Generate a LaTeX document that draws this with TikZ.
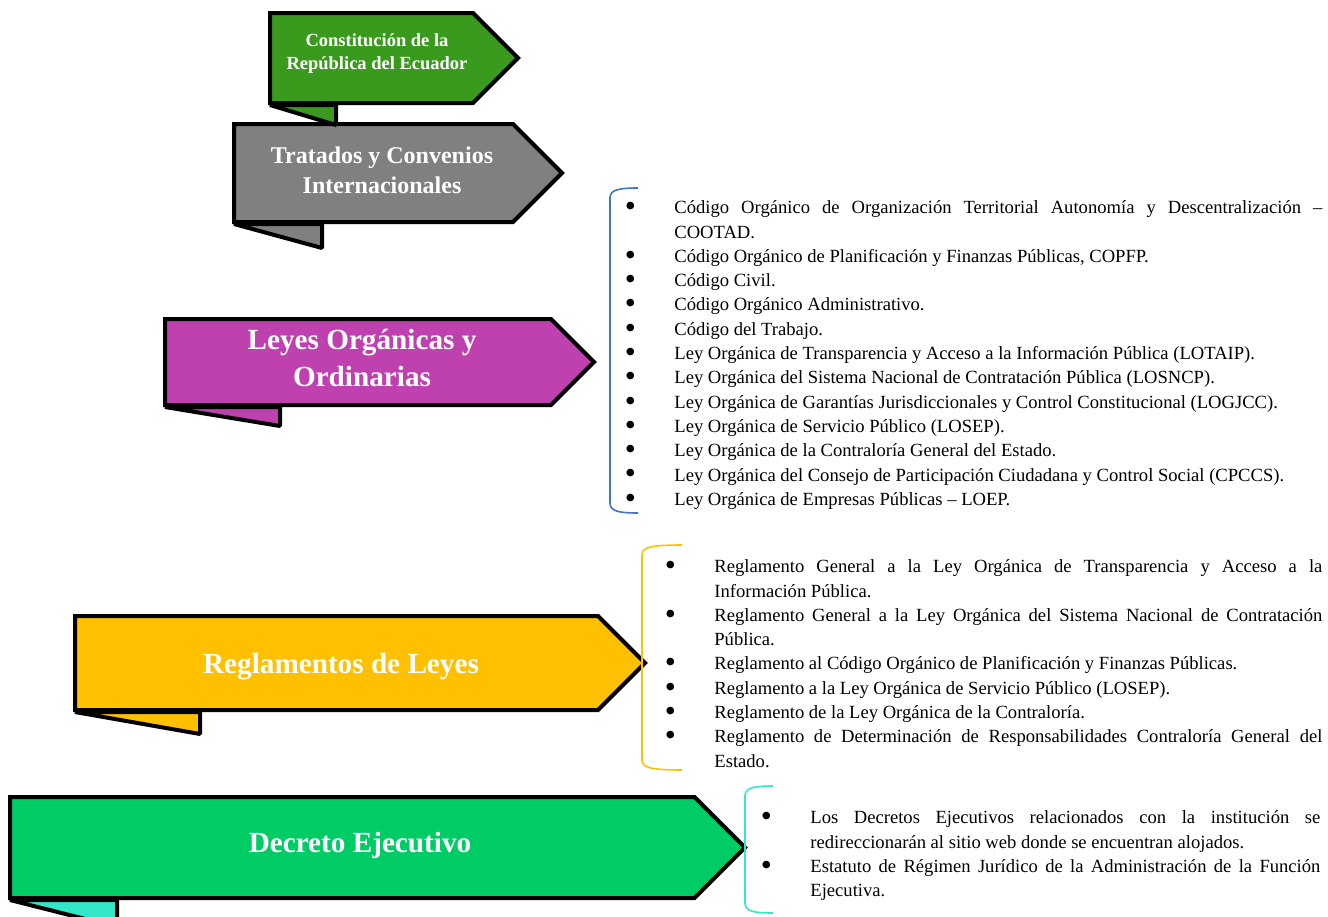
\documentclass[tikz,border=0pt]{standalone}
\usepackage{fontspec}
\usepackage{graphicx}
\setmainfont{Liberation Serif}[WordSpace={1,1,0}]
\usetikzlibrary{shapes.symbols}

\definecolor{verdeCons}{RGB}{58,154,30}
\definecolor{grisTrat}{RGB}{128,128,128}
\definecolor{moradoLey}{RGB}{191,64,175}
\definecolor{amarilloReg}{RGB}{255,192,0}
\definecolor{verdeDec}{RGB}{0,204,102}
\definecolor{turquesa}{RGB}{51,232,200}
\definecolor{azulLlave}{RGB}{68,114,196}

\hyphenpenalty=10000
\exhyphenpenalty=10000

\newcommand{\vineta}{\makebox[0pt][c]{\smash{\raisebox{-0.35ex}{\scalebox{1.7}{\textbullet}}}}}
\newenvironment{vinetas}{%
  \begin{list}{\vineta}{%
    \setlength{\leftmargin}{22pt}\setlength{\labelwidth}{0pt}%
    \setlength{\labelsep}{22pt}\setlength{\itemsep}{0pt}%
    \setlength{\parsep}{0pt}\setlength{\topsep}{0pt}\setlength{\partopsep}{0pt}}}%
  {\end{list}}

\begin{document}
\begin{tikzpicture}[x=0.5pt, y=-0.5pt, line join=miter]
	\tikzstyle{ribbon}=[signal, signal to=east, signal pointer angle=90, draw=black, line width=2pt, inner sep=0pt, anchor=west]
	\tikzstyle{tab}=[draw=black, line width=2pt, line join=bevel]
	\tikzstyle{rotulo}=[text=white, font=\bfseries, align=center, inner sep=0pt]
	\tikzstyle{lista}=[anchor=north west, inner sep=0pt, align=justify, font=\fontsize{9.3pt}{12.15pt}\selectfont]
	\tikzstyle{llave}=[line width=0.8pt]
	\useasboundingbox (0,0) rectangle (1328,916);

	% cintas
	\node[ribbon, fill=verdeCons, minimum width=124pt, minimum height=45pt] at (268,58) (cons) {};
	\node[ribbon, fill=grisTrat, minimum width=164pt, minimum height=49pt] at (232,173) (trat) {};
	\node[ribbon, fill=moradoLey, minimum width=214.5pt, minimum height=43pt] at (163,362) (leyes) {};
	\node[ribbon, fill=amarilloReg, minimum width=285pt, minimum height=47pt] at (73,663) (regl) {};
	\node[ribbon, fill=verdeDec, minimum width=367.5pt, minimum height=50.5pt] at (8,847.5) (decr) {};

	\draw[tab, fill=verdeCons] ([xshift=1pt]cons.west |- cons.south) -- ++(66,20) -- ++(0,-20) -- cycle;
	\draw[tab, fill=grisTrat] ([xshift=1pt]trat.west |- trat.south) -- ++(88,24) -- ++(0,-24) -- cycle;
	\draw[tab, fill=moradoLey] ([xshift=1pt]leyes.west |- leyes.south) -- ++(115,19) -- ++(0,-19) -- cycle;
	\draw[tab, fill=amarilloReg] ([xshift=1pt]regl.west |- regl.south) -- ++(125,22) -- ++(0,-22) -- cycle;
	\draw[tab, fill=turquesa] ([xshift=1pt]decr.west |- decr.south) -- ++(107,27) -- ++(0,-27) -- cycle;

	\node[rotulo, font=\bfseries\fontsize{9.25pt}{11.5pt}\selectfont] at (377,54) (consT) {Constitución de la\\República del Ecuador};
	\node[rotulo, font=\bfseries\fontsize{12pt}{15pt}\selectfont] at (382,170) (tratT) {Tratados y Convenios\\Internacionales};
	\node[rotulo, font=\bfseries\fontsize{14.6pt}{18.5pt}\selectfont] at (362,358) (leyesT) {Leyes Orgánicas y\\Ordinarias};
	\node[rotulo, font=\bfseries\fontsize{14.6pt}{18.5pt}\selectfont] at (341,667) (reglT) {Reglamentos de Leyes};
	\node[rotulo, font=\bfseries\fontsize{14.6pt}{18.5pt}\selectfont] at (360,845) (decrT) {Decreto Ejecutivo};

	% llaves
	\draw[llave, draw=azulLlave] (638,188) .. controls (618,188) and (610,190) .. (610,198) -- (610,503) .. controls (610,511) and (618,513) .. (638,513);
	\draw[llave, draw=amarilloReg] (682,545) .. controls (652,545) and (642,547) .. (642,555) -- (642,760) .. controls (642,768) and (652,770) .. (682,770);
	\draw[llave, draw=turquesa] (773,786) .. controls (753,786) and (745,788) .. (745,796) -- (745,903) .. controls (745,911) and (753,913) .. (773,913);

	% listas
	\node[lista, text width=346pt] at (630,189) (codigos) {\begin{vinetas}
		\item Código Orgánico de Organización Territorial Autonomía y Descentralización – COOTAD.
		\item Código Orgánico de Planificación y Finanzas Públicas, COPFP.
		\item Código Civil.
		\item Código Orgánico Administrativo.
		\item Código del Trabajo.
		\item Ley Orgánica de Transparencia y Acceso a la Información Pública (LOTAIP).
		\item Ley Orgánica del Sistema Nacional de Contratación Pública (LOSNCP).
		\item Ley Orgánica de Garantías Jurisdiccionales y Control Constitucional (LOGJCC).
		\item Ley Orgánica de Servicio Público (LOSEP).
		\item Ley Orgánica de la Contraloría General del Estado.
		\item Ley Orgánica del Consejo de Participación Ciudadana y Control Social (CPCCS).
		\item Ley Orgánica de Empresas Públicas – LOEP.
	\end{vinetas}};
	\node[lista, text width=326pt] at (670,548) (reglamentos) {\begin{vinetas}
		\item Reglamento General a la Ley Orgánica de Transparencia y Acceso a la Información Pública.
		\item Reglamento General a la Ley Orgánica del Sistema Nacional de Contratación Pública.
		\item Reglamento al Código Orgánico de Planificación y Finanzas Públicas.
		\item Reglamento a la Ley Orgánica de Servicio Público (LOSEP).
		\item Reglamento de la Ley Orgánica de la Contraloría.
		\item Reglamento de Determinación de Responsabilidades Contraloría General del Estado.
	\end{vinetas}};
	\node[lista, text width=277pt] at (766,799) (decretos) {\begin{vinetas}
		\item Los Decretos Ejecutivos relacionados con la institución se redireccionarán al sitio web donde se encuentran alojados.
		\item Estatuto de Régimen Jurídico de la Administración de la Función Ejecutiva.
	\end{vinetas}};
\end{tikzpicture}
\end{document}
